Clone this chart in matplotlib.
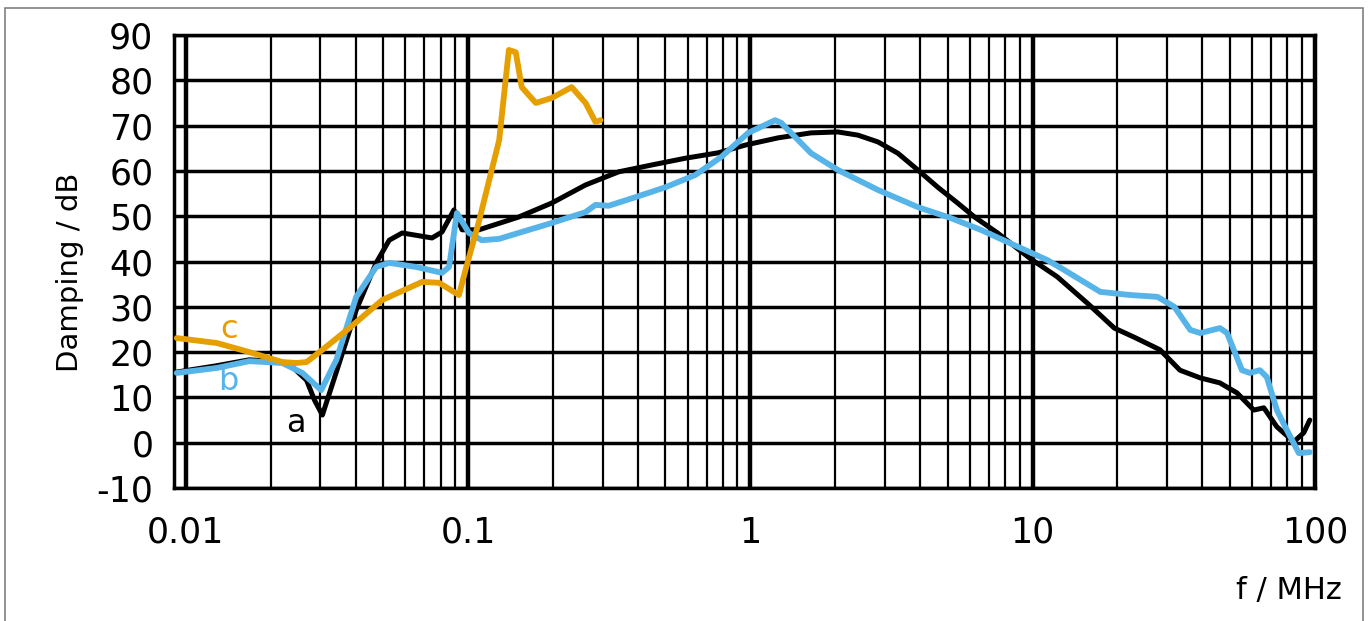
import matplotlib
matplotlib.use("Agg")
import matplotlib.pyplot as plt
from matplotlib.patches import Rectangle
from matplotlib.ticker import FixedLocator, NullFormatter

plt.rcParams["axes.unicode_minus"] = False

# frequency in MHz, damping in dB
freq_a = [0.0093, 0.0129, 0.0168, 0.0220, 0.0239, 0.0268, 0.0286, 0.0305, 0.0350,
          0.0402, 0.0473, 0.0526, 0.0585, 0.0746, 0.0809, 0.0892, 0.0953, 0.1094,
          0.151, 0.198, 0.261, 0.342, 0.447, 0.589, 0.771, 0.960, 1.256, 1.643,
          2.046, 2.407, 2.834, 3.335, 3.925, 4.617, 5.43, 6.24, 7.52, 9.84, 12.25,
          15.64, 19.49, 22.9, 28.3, 33.3, 39.3, 46.1, 53.0, 60.8, 66.0, 73.4, 84.3,
          91.4, 96.0]
damp_a = [15.6, 17.0, 18.3, 17.8, 16.7, 13.8, 9.4, 6.1, 17.6,
          29.3, 39.7, 44.7, 46.3, 45.2, 46.5, 51.4, 47.0, 47.0,
          49.8, 52.9, 56.9, 59.8, 61.3, 62.8, 64.0, 65.7, 67.3, 68.4,
          68.6, 67.9, 66.4, 63.9, 60.2, 56.4, 52.9, 49.8, 46.3, 40.6, 36.6,
          30.8, 25.3, 23.3, 20.5, 16.0, 14.3, 13.2, 11.0, 7.2, 7.7, 3.5, 0.2,
          2.2, 5.0]

freq_b = [0.0093, 0.0129, 0.0168, 0.0220, 0.0259, 0.0302, 0.0342, 0.0402, 0.0473,
          0.0526, 0.0655, 0.0809, 0.0857, 0.0914, 0.1008, 0.112, 0.129, 0.151,
          0.198, 0.261, 0.283, 0.315, 0.392, 0.501, 0.639, 0.790, 0.984, 1.225,
          1.287, 1.643, 2.046, 2.834, 3.925, 5.13, 6.55, 8.63, 11.3, 12.97, 17.38,
          22.2, 27.7, 31.8, 36.2, 39.3, 46.1, 48.9, 55.2, 58.9, 63.9, 67.6, 73.4,
          79.6, 87.8, 96.0]
damp_b = [15.4, 16.5, 18.0, 17.6, 15.4, 11.6, 18.3, 32.2, 38.8,
          39.7, 38.8, 37.5, 38.8, 50.7, 46.3, 44.7, 45.0, 46.3,
          48.5, 50.9, 52.5, 52.3, 54.2, 56.4, 59.1, 63.1, 68.4, 71.2,
          70.6, 63.9, 60.2, 55.8, 52.0, 49.6, 47.0, 43.6, 40.3, 38.1, 33.3,
          32.6, 32.2, 30.0, 24.9, 24.2, 25.3, 24.2, 16.0, 15.4, 16.0, 14.5, 7.2,
          2.8, -2.3, -2.1]

freq_c = [0.0093, 0.0129, 0.0168, 0.0220, 0.0247, 0.0268, 0.0305, 0.0380, 0.0497,
          0.0688, 0.0790, 0.0929, 0.0984, 0.109, 0.129, 0.1396, 0.1477, 0.155,
          0.174, 0.198, 0.233, 0.261, 0.283, 0.295]
damp_c = [23.1, 22.0, 20.0, 17.8, 17.6, 17.8, 20.5, 25.3, 31.5,
          35.5, 35.3, 32.6, 38.5, 48.5, 66.8, 86.7, 86.2, 78.5,
          75.0, 76.1, 78.5, 75.0, 70.8, 71.2]

x_ticks = [0.01, 0.1, 1, 10, 100]
x_labels = ["0.01", "0.1", "1", "10", "100"]
y_ticks = list(range(-10, 100, 10))

BLACK = "#000000"
BLUE = "#56B4E9"
ORANGE = "#E69F00"

fig = plt.figure(figsize=(13.71, 6.21), dpi=100)
ax = fig.add_axes([0.127, 0.2142, 0.832, 0.7294])

ax.set_xscale("log")
ax.set_xlim(0.0091, 100)
ax.set_ylim(-10, 90)

# grid: thick decades, thin minors, horizontal every 10 dB
ax.set_xticks(x_ticks)
ax.set_xticklabels(x_labels)
minors = [m * 10.0 ** e for e in range(-3, 2) for m in range(2, 10)]
ax.xaxis.set_minor_locator(FixedLocator(minors))
ax.xaxis.set_minor_formatter(NullFormatter())
ax.set_yticks(y_ticks)
ax.grid(which="major", axis="x", color="black", lw=3.2)
ax.grid(which="minor", axis="x", color="black", lw=1.6)
ax.grid(which="major", axis="y", color="black", lw=2.5)
ax.set_axisbelow(True)
for s in ax.spines.values():
    s.set_linewidth(2.5)

ax.tick_params(which="both", length=0)
ax.tick_params(axis="x", pad=20, labelsize=25)
ax.tick_params(axis="y", pad=15, labelsize=25)

style = dict(solid_joinstyle="round", solid_capstyle="round")
ax.plot(freq_a, damp_a, color=BLACK, lw=3.6, zorder=3, **style)
ax.plot(freq_b, damp_b, color=BLUE, lw=4.2, zorder=4, **style)
ax.plot(freq_c, damp_c, color=ORANGE, lw=4.2, zorder=5, **style)

ax.text(0.0246, 4.3, "a", color=BLACK, fontsize=23, ha="center", va="center")
ax.text(0.0141, 13.4, "b", color=BLUE, fontsize=23, ha="center", va="center")
ax.text(0.0143, 24.9, "c", color=ORANGE, fontsize=23, ha="center", va="center")

fig.text(70 / 1371, 1 - 272 / 621, "Damping / dB", rotation=90,
         ha="center", va="center", fontsize=21)
fig.text(1289 / 1371, 1 - 590 / 621, "f / MHz", ha="center", va="center",
         fontsize=22)

# thin frame round the whole chart
fig.patches.append(Rectangle((5 / 1371, -0.05), 1358 / 1371, 0.05 + 1 - 8 / 621,
                             transform=fig.transFigure, fill=False,
                             edgecolor="#808080", lw=1.2))

fig.savefig("out.png", dpi=100)
